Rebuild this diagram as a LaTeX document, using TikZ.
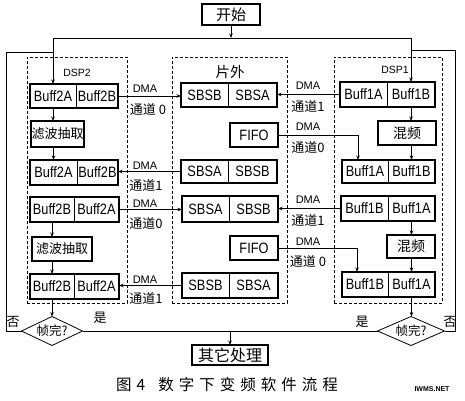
\documentclass[tikz,border=0pt]{standalone}
\usepackage{fontspec}
\setmainfont{Noto Sans CJK SC}
\newfontfamily\lat[FakeStretch=0.85]{Liberation Sans}
\newfontfamily\latn{Liberation Sans}
\usetikzlibrary{arrows.meta,shapes.geometric}
\tikzset{
  half/.style={draw,line width=0.6pt,inner sep=0pt,outer sep=0pt,font=\lat\fontsize{15}{15}\selectfont},
  thickframe/.style={line width=1.6pt},
  procbox/.style={draw,line width=1.6pt,inner sep=0pt,outer sep=0pt,font=\fontsize{13}{13}\selectfont},
  groupbox/.style={draw,line width=0.8pt,dash pattern=on 3pt off 2pt,inner sep=0pt,outer sep=0pt},
  flow/.style={line width=0.8pt,-{Stealth[length=4.5pt,width=3.5pt]}},
  link/.style={line width=0.8pt},
  dmatxt/.style={font=\latn\fontsize{11}{11}\selectfont,inner sep=0pt},
  chantxt/.style={font=\fontsize{13}{13}\selectfont,inner sep=0pt},
  grouptxt/.style={inner sep=0pt},
  decision/.style={diamond,draw,line width=0.8pt,inner sep=0pt,outer sep=0pt},
  yesno/.style={font=\fontsize{13}{13}\selectfont,inner sep=0pt}
}
\newcommand\pairbox[8]{%
  \node[half,minimum width={(#3-#2)*1pt},minimum height={(#6-#5)*1pt}] (#1a) at ({(#2+#3)/2},{(#5+#6)/2}) {#7};
  \node[half,minimum width={(#4-#3)*1pt},minimum height={(#6-#5)*1pt}] (#1b) at ({(#3+#4)/2},{(#5+#6)/2}) {#8};
  \draw[thickframe] (#1a.north west) rectangle (#1b.south east);
}
\begin{document}
\begin{tikzpicture}[x=1pt,y=-1pt]
\useasboundingbox (0,0) rectangle (465,400);
% group frames
\node[groupbox,minimum width=100pt,minimum height=246pt] (dsp2) at (77,180) {};
\node[groupbox,minimum width=115pt,minimum height=246pt] (offchip) at (229.5,180) {};
\node[groupbox,minimum width=108pt,minimum height=246pt] (dsp1) at (388,180) {};
\node[grouptxt,font=\latn\fontsize{10.5}{10.5}\selectfont] (dsp2t) at (77,73) {DSP2};
\node[grouptxt,font=\fontsize{14.5}{14.5}\selectfont] (offt) at (230,72) {片外};
\node[grouptxt,font=\latn\fontsize{10.5}{10.5}\selectfont] (dsp1t) at (395,70) {DSP1};
% start
\node[procbox,font=\fontsize{15}{15}\selectfont,minimum width=58pt,minimum height=21pt] (start) at (231,14.5) {开始};
% left column
\pairbox{l1}{30}{76}{118}{84}{108}{Buff2A}{Buff2B}
\node[procbox,minimum width=53pt,minimum height=26pt] (lf1) at (57.5,134) {滤波抽取};
\pairbox{l2}{30}{77}{118}{160}{185}{Buff2A}{Buff2B}
\pairbox{l3}{30}{74}{119}{197}{222}{Buff2B}{Buff2A}
\node[procbox,minimum width=60pt,minimum height=24pt] (lf2) at (62,249) {滤波抽取};
\pairbox{l4}{30}{74}{119}{274}{299}{Buff2B}{Buff2A}
% middle column
\pairbox{m1}{181}{228}{277}{83}{107}{SBSB}{SBSA}
\node[half,minimum width=48pt,minimum height=24pt,line width=1.6pt] (f1) at (254,135) {FIFO};
\pairbox{m2}{181}{228}{277}{160}{183}{SBSA}{SBSB}
\pairbox{m3}{182}{229}{278}{196}{222}{SBSA}{SBSB}
\node[half,minimum width=48pt,minimum height=24pt,line width=1.6pt] (f2) at (254,248) {FIFO};
\pairbox{m4}{182}{229}{278}{273}{298}{SBSB}{SBSA}
% right column
\pairbox{r1}{340}{387}{435}{82}{107}{Buff1A}{Buff1B}
\node[procbox,font=\fontsize{14}{14}\selectfont,minimum width=58pt,minimum height=24pt] (rm1) at (407,133) {混频};
\pairbox{r2}{342}{388}{435}{160}{183}{Buff1A}{Buff1B}
\pairbox{r3}{341}{388}{435}{196}{221}{Buff1B}{Buff1A}
\node[procbox,font=\fontsize{14}{14}\selectfont,minimum width=48pt,minimum height=23pt] (rm2) at (411,246.5) {混频};
\pairbox{r4}{342}{388}{435}{272}{297}{Buff1B}{Buff1A}
% decisions and end
\node[decision,minimum width=61pt,minimum height=29pt] (d1) at (52,331) {};
\node[inner sep=0pt,font=\fontsize{12.5}{12.5}\selectfont] (d1t) at (d1.center) {帧完?};
\node[decision,minimum width=67pt,minimum height=29pt] (d2) at (411,331) {};
\node[inner sep=0pt,font=\fontsize{12.5}{12.5}\selectfont] (d2t) at (d2.center) {帧完?};
\node[procbox,font=\fontsize{16}{16}\selectfont,minimum width=76pt,minimum height=20pt] (other) at (230,355) {其它处理};
% junctions
\coordinate (j0) at (231,38);
\coordinate (jl) at (53,38);
\coordinate (jr) at (411,38);
\coordinate (lc) at (6,52);
\coordinate (lj) at (53,52);
\coordinate (rc) at (455,50);
\coordinate (rj) at (411,50);
\coordinate (jb) at (230,331);
% start connectors
\draw[flow] (start.south) -- (j0);
\draw[link] (jl) -- (jr);
\draw[flow] (jl) -- (l1a.north);
\draw[flow] (jr) -- (r1b.north);
% left column flow
\draw[flow] (l1a.south) -- (l1a.south |- lf1.north);
\draw[flow] (lf1.south -| l2a.south) -- (l2a.north);
\draw[flow] (l3a.south) -- (l3a.south |- lf2.north);
\draw[flow] (lf2.south -| l4a.south) -- (l4a.north);
\draw[flow] (l4a.south) -- (d1.north);
% right column flow
\draw[flow] (r1b.south) -- (r1b.south |- rm1.north);
\draw[flow] (rm1.south -| r2b.south) -- (r2b.north);
\draw[flow] (r3b.south) -- (r3b.south |- rm2.north);
\draw[flow] (rm2.south -| r4b.south) -- (r4b.north);
\draw[flow] (r4b.south) -- (r4b.south |- d2.north);
% DMA transfers
\draw[flow] (l1b.east) -- (l1b.east -| m1a.west);
\draw[flow] (r1a.west) -- (r1a.west -| m1b.east);
\draw[flow] (f1.east) -| ([xshift=-7pt]r2a.north);
\draw[flow] (m2a.west) -- (m2a.west -| l2b.east);
\draw[flow] (l3b.east) -- (l3b.east -| m3a.west);
\draw[flow] (r3a.west) -- (r3a.west -| m3b.east);
\draw[flow] (f2.east) -| ([xshift=-8pt]r4a.north);
\draw[flow] (m4a.west) -- (m4a.west -| l4b.east);
% DMA labels
\node[dmatxt] (t1) at (145,89) {DMA};
\node[chantxt] (c1) at (148,109) {通道 0};
\node[dmatxt] (t2) at (308,86) {DMA};
\node[chantxt] (c2) at (308,106) {通道1};
\node[dmatxt] (t3) at (308,127) {DMA};
\node[chantxt] (c3) at (308,147) {通道0};
\node[dmatxt] (t4) at (145,166) {DMA};
\node[chantxt] (c4) at (146,185) {通道1};
\node[dmatxt] (t5) at (145,204) {DMA};
\node[chantxt] (c5) at (146,223) {通道0};
\node[dmatxt] (t6) at (308,200) {DMA};
\node[chantxt] (c6) at (308,220) {通道1};
\node[dmatxt] (t7) at (308,242) {DMA};
\node[chantxt] (c7) at (308,261) {通道 0};
\node[dmatxt] (t8) at (145,280) {DMA};
\node[chantxt] (c8) at (146,298) {通道1};
% decisions wiring
\draw[link] (d1.west) -| (lc) -- (lj);
\draw[link] (d2.east) -| (rc) -- (rj);
\draw[link] (d1.east) -- (d2.west);
\draw[flow] (jb) -- (other.north);
\node[yesno] (y1) at (100,318) {是};
\node[yesno] (y2) at (362,322) {是};
\node[yesno] (n1) at (13,322) {否};
\node[yesno] (n2) at (450,322) {否};
% caption
\node[anchor=west,inner sep=0pt,font=\fontsize{15.5}{15.5}\selectfont] (cap) at (116,385)
  {图\hspace{5pt}4\hspace{13pt}数\hspace{5pt}字\hspace{5pt}下\hspace{5pt}变\hspace{5pt}频\hspace{5pt}软\hspace{5pt}件\hspace{5pt}流\hspace{5pt}程};
\node[inner sep=0pt,font=\latn\bfseries\fontsize{7}{7}\selectfont] (logo) at (432,389) {IWMS.NET};
\end{tikzpicture}
\end{document}
